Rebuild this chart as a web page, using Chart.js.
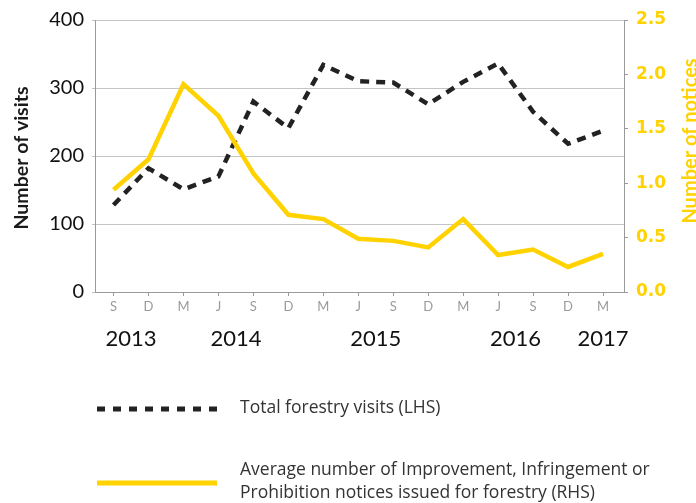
<!DOCTYPE html>
<html>
<head>
<meta charset="utf-8">
<script src="https://cdn.jsdelivr.net/npm/chart.js@4"></script>
<style>
html, body { margin: 0; padding: 0; background: #fff; }
#chart { display: block; }
</style>
</head>
<body>
<canvas id="chart" width="696" height="503"></canvas>
<script>
// quarterly periods, Sep 2013 - Mar 2017
const periods = ['S', 'D', 'M', 'J', 'S', 'D', 'M', 'J', 'S', 'D', 'M', 'J', 'S', 'D', 'M'];
const years = ['2013', '2014', '2015', '2016', '2017'];
const yearPositions = [0.5, 3.5, 7.5, 11.5, 14];
const visits = [128, 182, 151, 170, 280, 241, 334, 310, 308, 276, 309, 336, 265, 218, 237];
const notices = [0.94, 1.22, 1.91, 1.62, 1.09, 0.71, 0.67, 0.49, 0.47, 0.41, 0.67, 0.34, 0.39, 0.23, 0.35];
const visitTicks = [0, 100, 200, 300, 400];
const noticeTicks = [0, 0.5, 1, 1.5, 2, 2.5];

const visitsLabel = 'Total forestry visits (LHS)';
const noticesLabel = ['Average number of Improvement, Infringement or', 'Prohibition notices issued for forestry (RHS)'];

const YELLOW = '#FFD200';
const DARK = '#222222';

const extras = {
   id: 'extras',
   afterDraw(chart) {
      const ctx = chart.ctx;
      const area = chart.chartArea;
      ctx.save();
      ctx.textAlign = 'center';
      ctx.textBaseline = 'middle';

      // axis titles, both reading bottom to top
      ctx.save();
      ctx.font = 'bold 19.5px Lato';
      ctx.fillStyle = '#1a1a1a';
      ctx.translate(22, (area.top + area.bottom) / 2 + 2);
      ctx.rotate(-Math.PI / 2);
      ctx.fillText('Number of visits', 0, 0);
      ctx.restore();

      ctx.save();
      ctx.font = 'bold 20px Lato';
      ctx.fillStyle = YELLOW;
      ctx.translate(691, area.top + 121);
      ctx.rotate(-Math.PI / 2);
      ctx.fillText('Number of notices', 0, 0);
      ctx.restore();

      // legend
      ctx.lineWidth = 5;
      ctx.strokeStyle = DARK;
      ctx.setLineDash([8, 8]);
      ctx.beginPath();
      ctx.moveTo(97, 409);
      ctx.lineTo(217, 409);
      ctx.stroke();

      ctx.setLineDash([]);
      ctx.strokeStyle = YELLOW;
      ctx.beginPath();
      ctx.moveTo(97, 483);
      ctx.lineTo(217, 483);
      ctx.stroke();

      ctx.textAlign = 'left';
      ctx.font = '17.5px "Open Sans"';
      ctx.fillStyle = '#333';
      ctx.fillText(visitsLabel, 240, 408);
      ctx.fillText(noticesLabel[0], 240, 470);
      ctx.fillText(noticesLabel[1], 240, 493);
      ctx.restore();
   }
};

const ctx = document.getElementById('chart').getContext('2d');
new Chart(ctx, {
   type: 'line',
   data: {
      datasets: [
         {
            label: visitsLabel,
            data: visits.map((v, i) => ({ x: i, y: v })),
            yAxisID: 'y',
            borderColor: DARK,
            borderWidth: 4.5,
            borderDash: [9, 7],
            pointRadius: 0,
            tension: 0,
            order: 2
         },
         {
            label: noticesLabel.join(' '),
            data: notices.map((v, i) => ({ x: i, y: v })),
            yAxisID: 'y1',
            borderColor: YELLOW,
            borderWidth: 4.5,
            pointRadius: 0,
            tension: 0,
            order: 1
         }
      ]
   },
   options: {
      responsive: false,
      animation: false,
      devicePixelRatio: 1,
      layout: { padding: { top: 19, left: 0, right: 0, bottom: 145 } },
      plugins: { legend: { display: false }, tooltip: { enabled: false } },
      scales: {
         x: {
            type: 'linear',
            position: 'bottom',
            min: -0.53,
            max: 14.6,
            afterBuildTicks: (axis) => { axis.ticks = periods.map((p, i) => ({ value: i })); },
            afterFit: (axis) => { axis.height = 26; },
            grid: { drawOnChartArea: false, tickLength: 4, color: '#999' },
            border: { color: '#999' },
            ticks: {
               callback: (v) => periods[v],
               autoSkip: false,
               maxRotation: 0,
               padding: 3,
               color: '#9a9a9a',
               font: { family: 'Lato', size: 13 }
            }
         },
         xYear: {
            type: 'linear',
            position: 'bottom',
            min: -0.53,
            max: 14.6,
            afterBuildTicks: (axis) => { axis.ticks = yearPositions.map(p => ({ value: p })); },
            afterFit: (axis) => { axis.height = 40; },
            grid: { display: false },
            border: { display: false },
            ticks: {
               callback: (v) => years[yearPositions.indexOf(v)],
               autoSkip: false,
               maxRotation: 0,
               padding: 0,
               color: '#111',
               font: { family: 'Lato', size: 22 }
            }
         },
         y: {
            position: 'left',
            min: 0,
            max: 400,
            afterBuildTicks: (axis) => { axis.ticks = visitTicks.map(v => ({ value: v })); },
            afterFit: (axis) => { axis.width = 95; },
            grid: { color: '#c4c4c4', tickLength: 3 },
            border: { color: '#999' },
            ticks: {
               padding: 8,
               color: '#111',
               font: { family: 'Lato', size: 20 }
            }
         },
         y1: {
            position: 'right',
            min: 0,
            max: 2.5,
            afterBuildTicks: (axis) => { axis.ticks = noticeTicks.map(v => ({ value: v })); },
            afterFit: (axis) => { axis.width = 72; },
            grid: { drawOnChartArea: false, tickLength: 4, color: '#999' },
            border: { color: '#999' },
            ticks: {
               callback: (v) => v.toFixed(1),
               padding: 8,
               color: YELLOW,
               font: { family: 'DejaVu Sans', size: 17, weight: 'bold' }
            }
         }
      }
   },
   plugins: [extras]
});
</script>
</body>
</html>
